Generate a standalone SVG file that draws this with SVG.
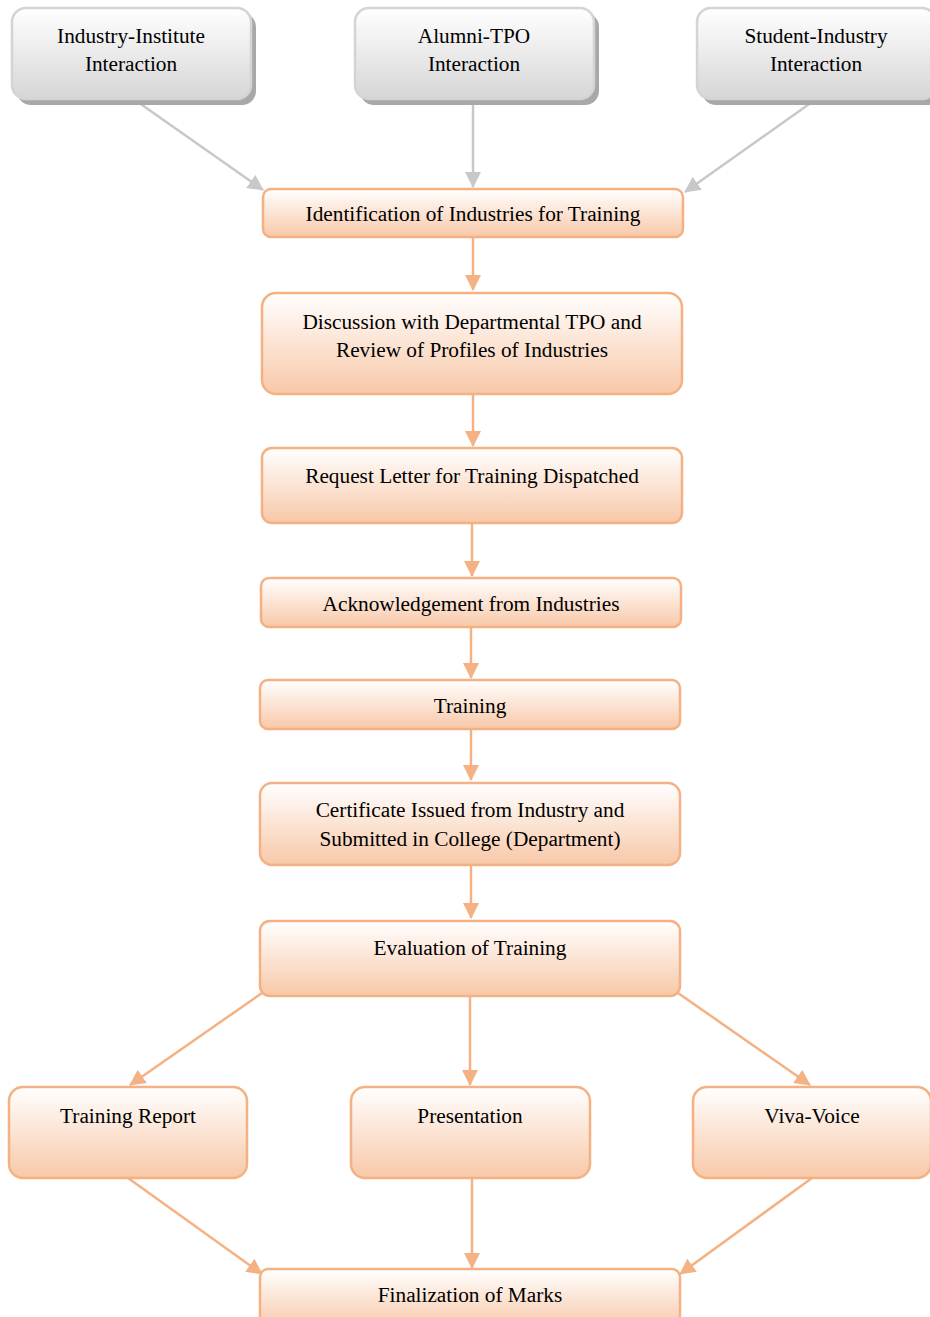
<svg xmlns="http://www.w3.org/2000/svg" width="930" height="1317" viewBox="0 0 930 1317">
<defs>
<linearGradient id="og" x1="0" y1="0" x2="0" y2="1"><stop offset="0" stop-color="#FFFFFF"/><stop offset="1" stop-color="#F8C8A8"/></linearGradient>
<linearGradient id="gg" x1="0" y1="0" x2="0" y2="1"><stop offset="0" stop-color="#FFFFFF"/><stop offset="1" stop-color="#D6D6D6"/></linearGradient>
<marker id="ao" markerUnits="userSpaceOnUse" markerWidth="16" markerHeight="16" viewBox="0 0 16 16" refX="15" refY="8" orient="auto"><path d="M0,0 L16,8 L0,16 z" fill="#F4B183"/></marker>
<marker id="ag" markerUnits="userSpaceOnUse" markerWidth="16" markerHeight="16" viewBox="0 0 16 16" refX="15" refY="8" orient="auto"><path d="M0,0 L16,8 L0,16 z" fill="#C8C8C8"/></marker>
</defs>
<style>
.o{fill:url(#og);stroke:#F4B183;stroke-width:2.5}
.g{fill:url(#gg);stroke:#D4D4D4;stroke-width:2.5}
.sh{fill:#A8A8A8}
text{font-family:"Liberation Serif","Times New Roman",serif;font-size:21.3px;fill:#000;text-anchor:middle}
.co{stroke:#F4B183;stroke-width:2.5;fill:none;marker-end:url(#ao)}
.cg{stroke:#C8C8C8;stroke-width:2.5;fill:none;marker-end:url(#ag)}
</style>
<rect width="930" height="1317" fill="#FFFFFF"/>
<g id="connectors">
<line class="cg" x1="135" y1="100" x2="263" y2="190"/>
<line class="cg" x1="473" y1="100" x2="473" y2="187"/>
<line class="cg" x1="812" y1="102" x2="685" y2="192"/>
<line class="co" x1="473" y1="237" x2="473" y2="290"/>
<line class="co" x1="473" y1="394" x2="473" y2="446"/>
<line class="co" x1="472" y1="523" x2="472" y2="576"/>
<line class="co" x1="471" y1="627" x2="471" y2="678"/>
<line class="co" x1="471" y1="729" x2="471" y2="780"/>
<line class="co" x1="471" y1="865" x2="471" y2="918"/>
<line class="co" x1="470" y1="996" x2="470" y2="1085"/>
<line class="co" x1="262" y1="993" x2="130" y2="1085"/>
<line class="co" x1="678" y1="993" x2="810" y2="1085"/>
<line class="co" x1="128" y1="1178" x2="262" y2="1274"/>
<line class="co" x1="472" y1="1178" x2="472" y2="1268"/>
<line class="co" x1="812" y1="1178" x2="680" y2="1274"/>
</g>
<g id="n-industry-institute">
<rect class="sh" x="17" y="13" width="239" height="92" rx="14"/>
<rect class="g" x="12" y="8" width="239" height="91" rx="14"/>
<text x="131" y="43">Industry-Institute</text>
<text x="131" y="71">Interaction</text>
</g>
<g id="n-alumni-tpo">
<rect class="sh" x="360" y="13" width="239" height="92" rx="14"/>
<rect class="g" x="355" y="8" width="239" height="91" rx="14"/>
<text x="474" y="43">Alumni-TPO</text>
<text x="474" y="71">Interaction</text>
</g>
<g id="n-student-industry">
<rect class="sh" x="702" y="13" width="239" height="92" rx="14"/>
<rect class="g" x="697" y="8" width="239" height="91" rx="14"/>
<text x="816" y="43">Student-Industry</text>
<text x="816" y="71">Interaction</text>
</g>
<g id="n-identification">
<rect class="o" x="263" y="189" width="420" height="48" rx="8"/>
<text x="473" y="221">Identification of Industries for Training</text>
</g>
<g id="n-discussion">
<rect class="o" x="262" y="293" width="420" height="101" rx="14"/>
<text x="472" y="329">Discussion with Departmental TPO and</text>
<text x="472" y="357">Review of Profiles of Industries</text>
</g>
<g id="n-request">
<rect class="o" x="262" y="448" width="420" height="75" rx="10"/>
<text x="472" y="483">Request Letter for Training Dispatched</text>
</g>
<g id="n-acknowledgement">
<rect class="o" x="261" y="578" width="420" height="49" rx="8"/>
<text x="471" y="611">Acknowledgement from Industries</text>
</g>
<g id="n-training">
<rect class="o" x="260" y="680" width="420" height="49" rx="8"/>
<text x="470" y="713">Training</text>
</g>
<g id="n-certificate">
<rect class="o" x="260" y="783" width="420" height="82" rx="12"/>
<text x="470" y="817">Certificate Issued from Industry and</text>
<text x="470" y="846">Submitted in College (Department)</text>
</g>
<g id="n-evaluation">
<rect class="o" x="260" y="921" width="420" height="75" rx="10"/>
<text x="470" y="955">Evaluation of Training</text>
</g>
<g id="n-report">
<rect class="o" x="9" y="1087" width="238" height="91" rx="14"/>
<text x="128" y="1123">Training Report</text>
</g>
<g id="n-presentation">
<rect class="o" x="351" y="1087" width="239" height="91" rx="14"/>
<text x="470" y="1123">Presentation</text>
</g>
<g id="n-viva">
<rect class="o" x="693" y="1087" width="238" height="91" rx="14"/>
<text x="812" y="1123">Viva-Voice</text>
</g>
<g id="n-finalization">
<rect class="o" x="260" y="1269" width="420" height="60" rx="8"/>
<text x="470" y="1302">Finalization of Marks</text>
</g>
</svg>
